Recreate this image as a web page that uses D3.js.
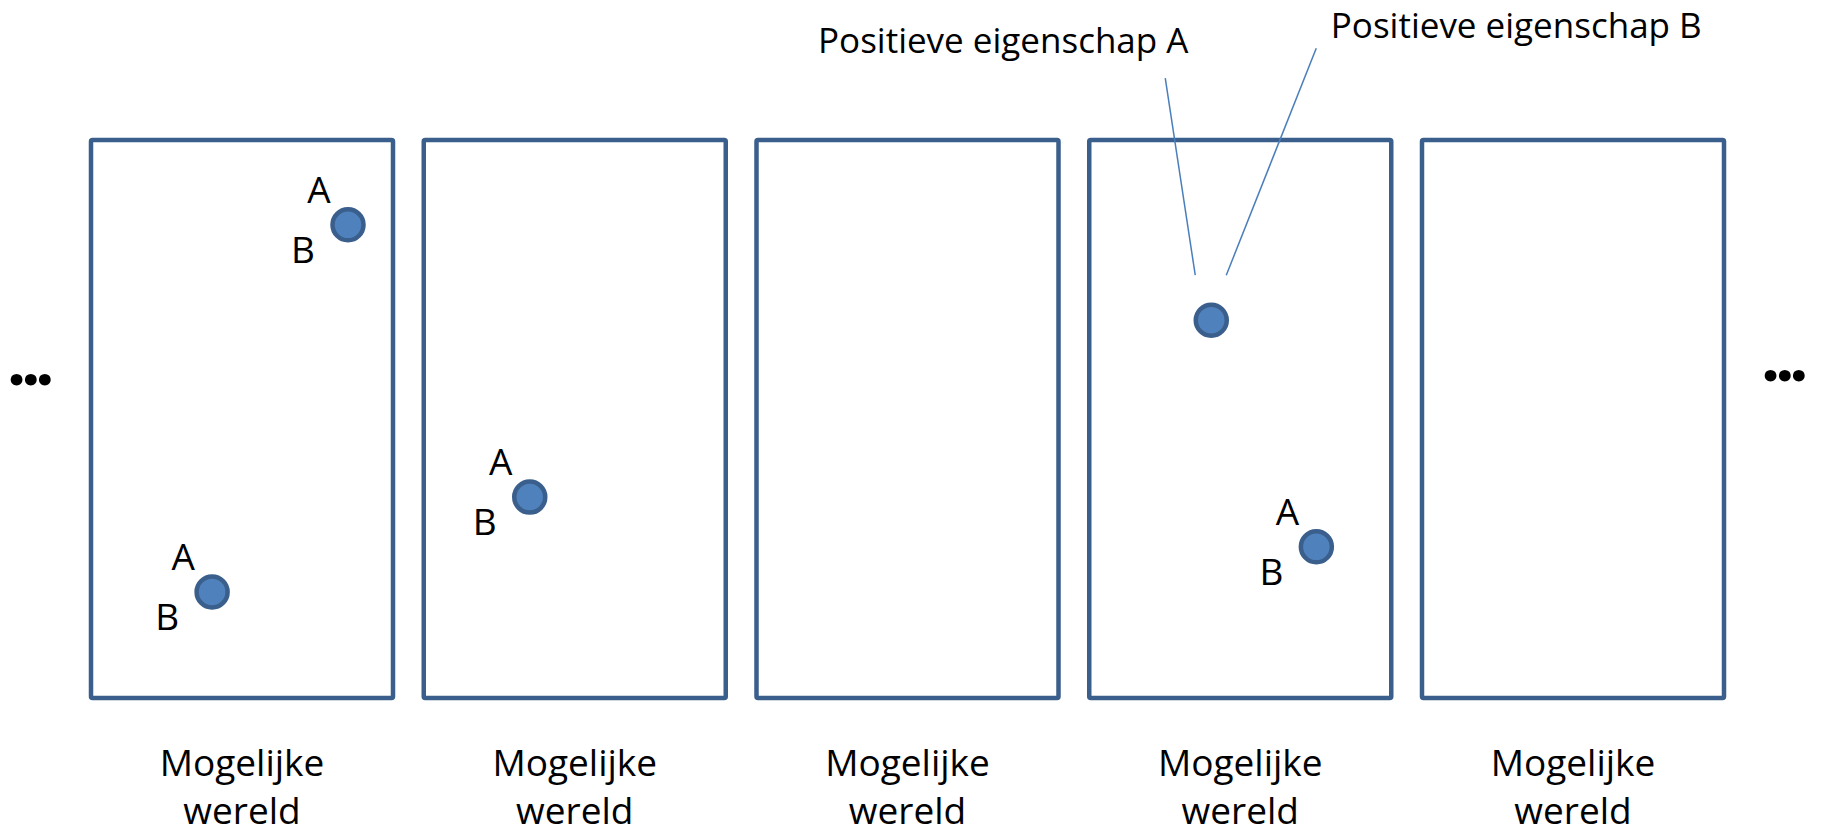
<!DOCTYPE html>
<html>
<head>
<meta charset="utf-8">
<script src="https://cdn.jsdelivr.net/npm/d3@7"></script>
<style>
  body { margin: 0; background: #fff; }
  text { font-family: 'Open Sans', 'Noto Sans', sans-serif; fill: #000; }
</style>
</head>
<body>
<div id="graf"></div>
<script>
// I. Datos
werelden = ['w1', 'w2', 'w3', 'w4', 'w5']
wereldLabel = ['Mogelijke', 'wereld']

// punten: in welke wereld, en relatieve positie binnen het kader (0..1)
puntWereld = [0, 0, 1, 3, 3]
puntX = [0.851, 0.401, 0.351, 0.404, 0.752]
puntY = [0.152, 0.810, 0.640, 0.323, 0.729]
puntLetters = [true, true, true, false, true]

eigenschappen = ['Positieve eigenschap A', 'Positieve eigenschap B']
// welk punt de annotatie aanwijst
annotatiePunt = 3

// II. Configuratie
ancho_total = 1824
alto_total = 835

kader = { top: 140, bottom: 698, left: 91, right: 1724 }

svg = d3.select('#graf').append('svg')
        .attr('width', ancho_total)
        .attr('height', alto_total)

x = d3.scaleBand()
      .domain(werelden)
      .range([kader.left, kader.right])
      .paddingInner(0.0924)
      .paddingOuter(0)

rx = d3.scaleLinear().domain([0, 1]).range([0, x.bandwidth()])
ry = d3.scaleLinear().domain([0, 1]).range([kader.top, kader.bottom])

blauwRand = '#3b5f8c'
blauwVul = '#4f81bd'
lijnKleur = '#4a7ebb'

// III. Kaders
svg.selectAll('rect.wereld')
   .data(werelden)
   .enter()
   .append('rect')
     .attr('class', 'wereld')
     .attr('x', d => x(d))
     .attr('y', ry(0))
     .attr('width', x.bandwidth())
     .attr('height', ry(1) - ry(0))
     .attr('rx', 1.5)
     .style('fill', 'none')
     .style('stroke', blauwRand)
     .style('stroke-width', 4.5)

// labels onder de kaders
labels = svg.selectAll('text.wereld')
            .data(werelden)
            .enter()
            .append('text')
              .attr('class', 'wereld')
              .attr('text-anchor', 'middle')
              .attr('x', d => x(d) + x.bandwidth() / 2)
              .attr('y', 776)
              .style('font-size', '37px')

labels.selectAll('tspan')
      .data(d => wereldLabel.map(t => ({ w: d, t: t })))
      .enter()
      .append('tspan')
        .attr('x', d => x(d.w) + x.bandwidth() / 2)
        .attr('dy', (d, i) => i == 0 ? 0 : 48)
        .text(d => d.t)

// IV. Punten
punten = puntX.map((px, i) => ({
  w: werelden[puntWereld[i]],
  cx: x(werelden[puntWereld[i]]) + rx(px),
  cy: ry(puntY[i]),
  letters: puntLetters[i]
}))

letterData = []
punten.filter(d => d.letters).forEach(d => {
  letterData.push({ t: 'A', x: d.cx - 29, y: d.cy - 22 })
  letterData.push({ t: 'B', x: d.cx - 45, y: d.cy + 38 })
})

svg.selectAll('text.letter')
   .data(letterData)
   .enter()
   .append('text')
     .attr('class', 'letter')
     .attr('text-anchor', 'middle')
     .attr('x', d => d.x)
     .attr('y', d => d.y)
     .style('font-size', '37px')
     .text(d => d.t)

svg.selectAll('circle')
   .data(punten)
   .enter()
   .append('circle')
     .attr('cx', d => d.cx)
     .attr('cy', d => d.cy)
     .attr('r', 15.5)
     .style('fill', blauwVul)
     .style('stroke', blauwRand)
     .style('stroke-width', 4.5)

// V. Annotatie
p = punten[annotatiePunt]
annotaties = [
  { t: eigenschappen[0], tx: p.cx - 208, ty: p.cy - 267, x1: p.cx - 46, y1: p.cy - 242, x2: p.cx - 16, y2: p.cy - 45 },
  { t: eigenschappen[1], tx: p.cx + 305, ty: p.cy - 282, x1: p.cx + 105, y1: p.cy - 272, x2: p.cx + 15, y2: p.cy - 45 }
]

svg.selectAll('line.annotatie')
   .data(annotaties)
   .enter()
   .append('line')
     .attr('class', 'annotatie')
     .attr('x1', d => d.x1)
     .attr('y1', d => d.y1)
     .attr('x2', d => d.x2)
     .attr('y2', d => d.y2)
     .style('stroke', lijnKleur)
     .style('stroke-width', 1.5)

svg.selectAll('text.annotatie')
   .data(annotaties)
   .enter()
   .append('text')
     .attr('class', 'annotatie')
     .attr('text-anchor', 'middle')
     .attr('x', d => d.tx)
     .attr('y', d => d.ty)
     .style('font-size', '35px')
     .text(d => d.t)

// VI. Beletseltekens links en rechts
svg.selectAll('text.dots')
   .data([{ x: 8, y: 379 }, { x: 1762, y: 375 }])
   .enter()
   .append('text')
     .attr('class', 'dots')
     .attr('x', d => d.x)
     .attr('y', d => d.y + 6)
     .style('font-family', 'Lato, sans-serif')
     .style('font-weight', 900)
     .style('font-size', '72px')
     .style('letter-spacing', '-3px')
     .text('...')
</script>
</body>
</html>
